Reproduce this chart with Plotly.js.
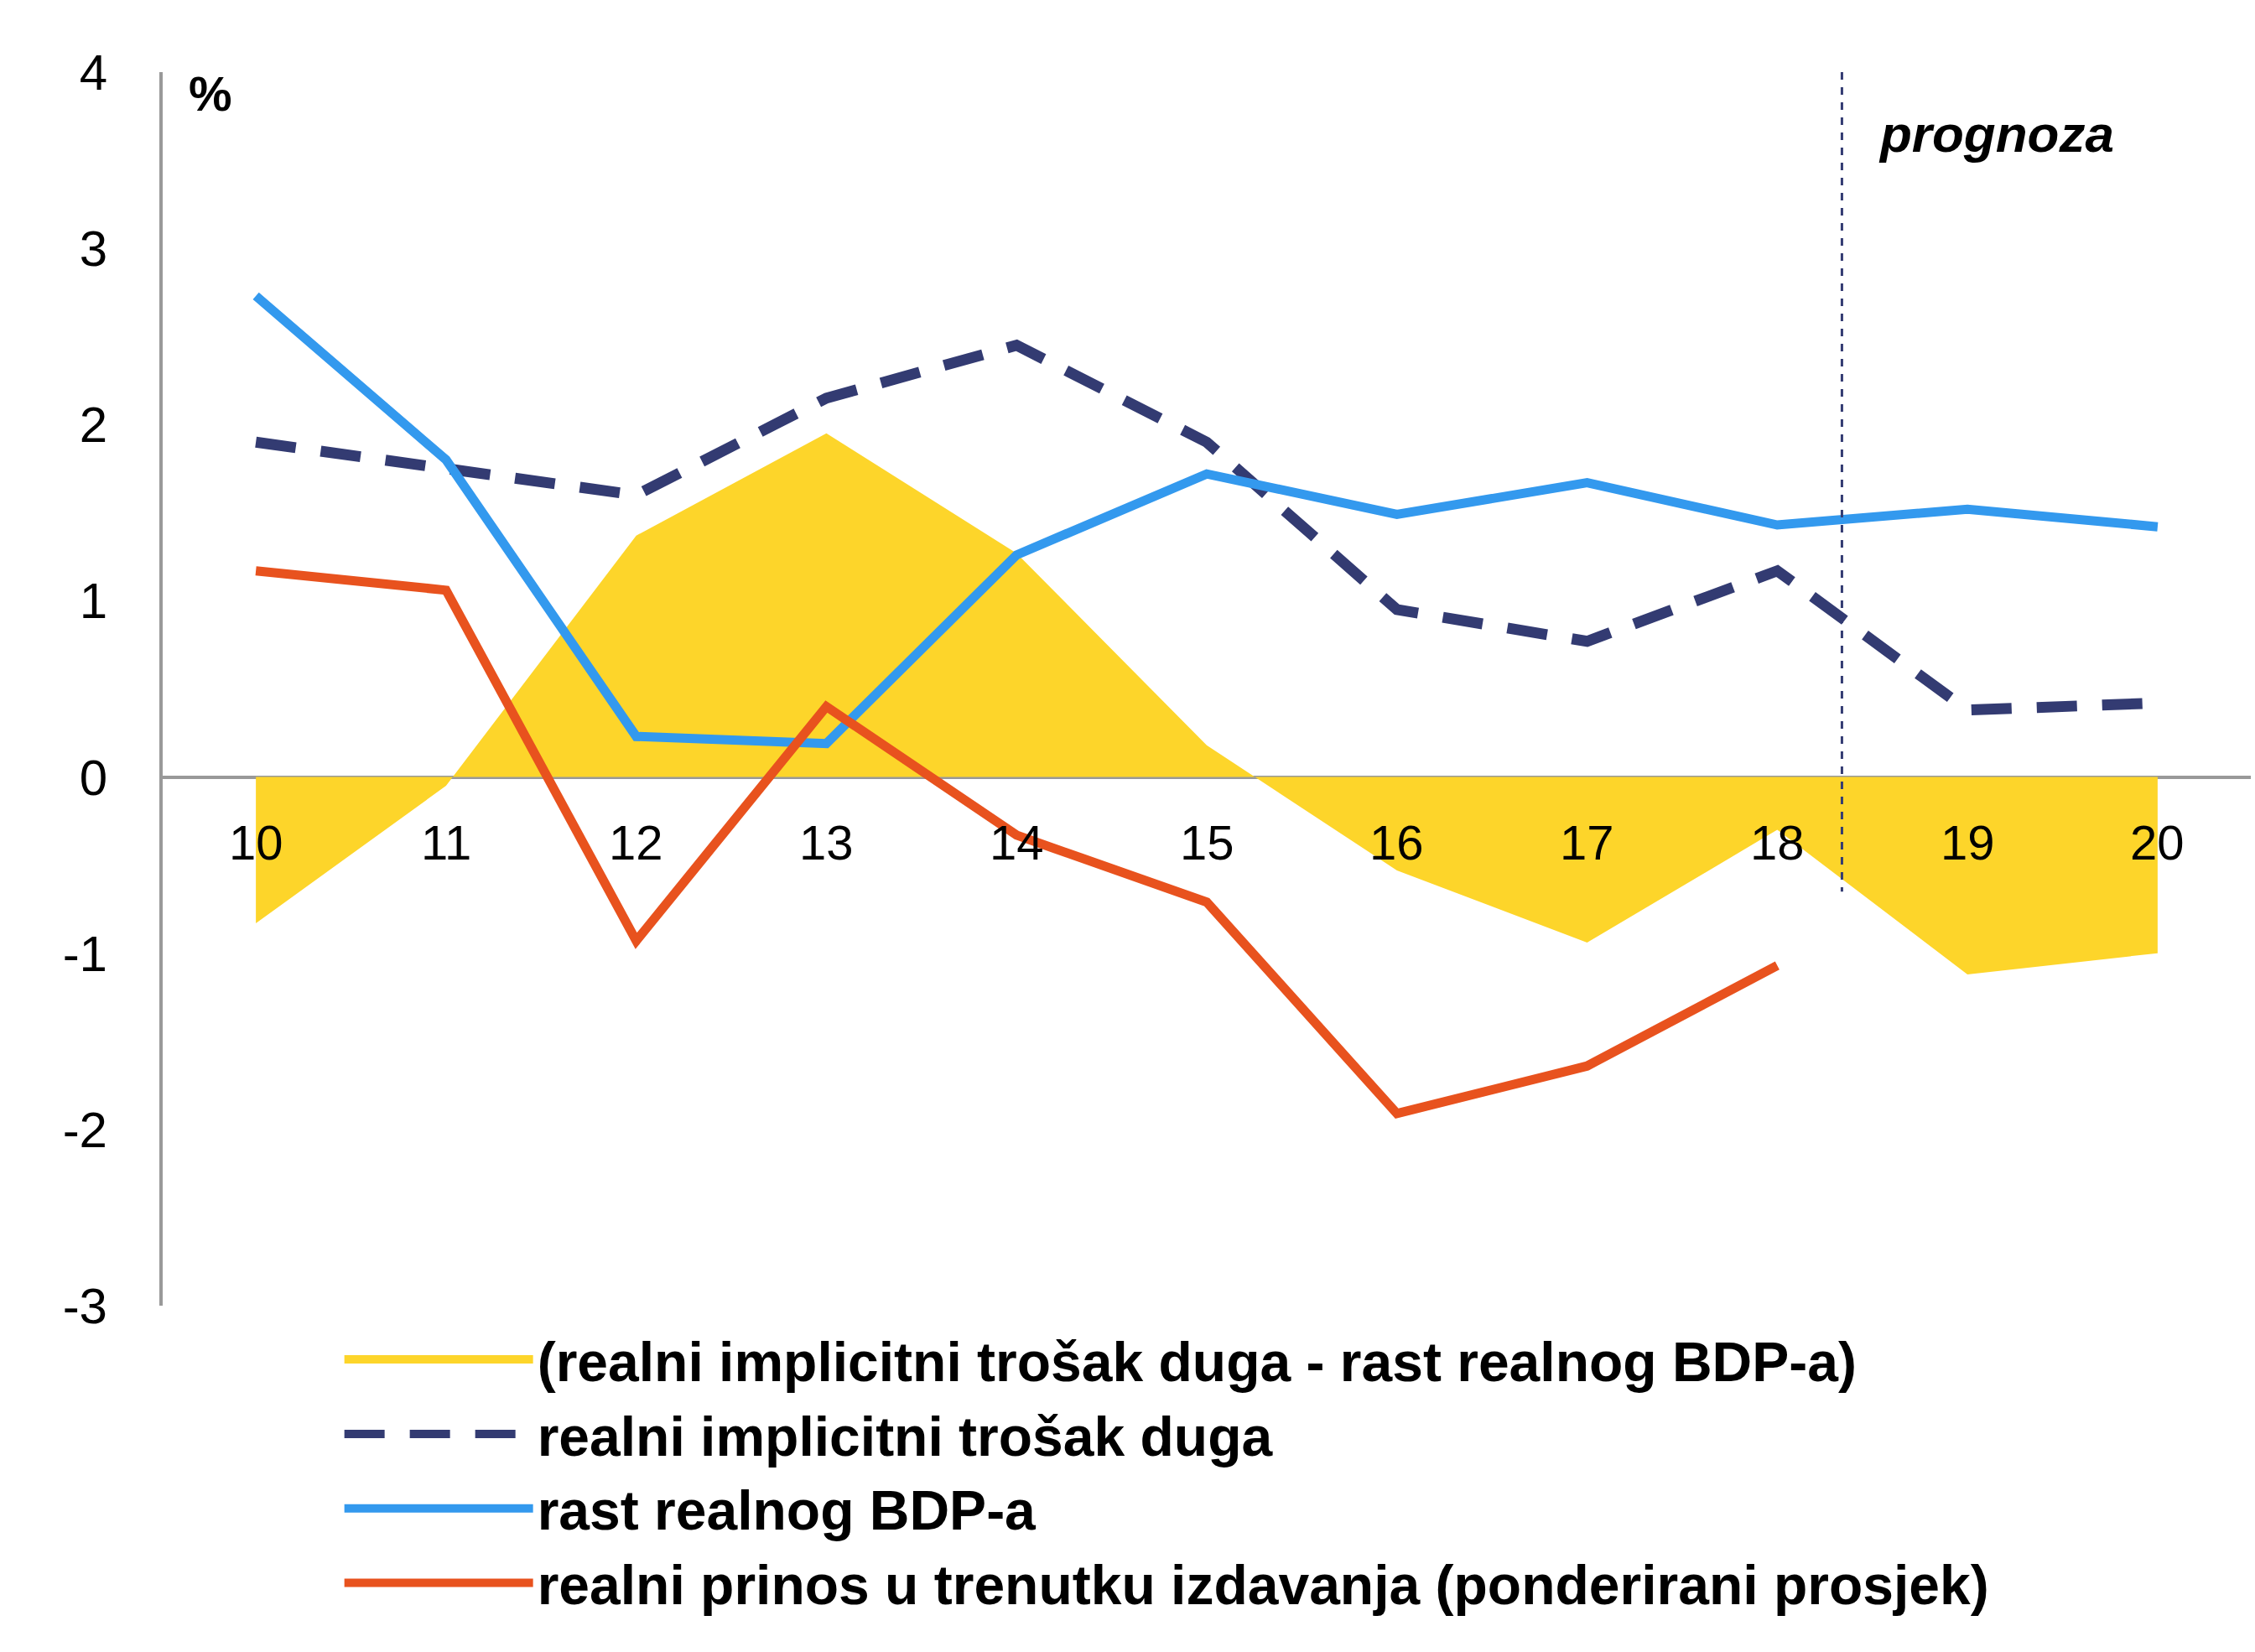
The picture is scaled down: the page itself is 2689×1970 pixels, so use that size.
<!DOCTYPE html>
<html><head><meta charset="utf-8">
<script src="https://cdn.plot.ly/plotly-3.0.1.min.js"></script>
<style>body{margin:0;background:#fff}</style></head>
<body><div id="c" style="width:2689px;height:1970px"></div>
<script>
const years = [10,11,12,13,14,15,16,17,18,19,20];
const yearLabels = ["10","11","12","13","14","15","16","17","18","19","20"];
const diffArea = [-0.83,-0.05,1.37,1.95,1.27,0.18,-0.53,-0.94,-0.30,-1.12,-1.00];
const implicitCost = [1.90,1.75,1.60,2.15,2.45,1.90,0.95,0.77,1.17,0.38,0.42];
const gdpGrowth = [2.73,1.80,0.23,0.19,1.26,1.72,1.49,1.67,1.43,1.52,1.42];
const yieldYears = [10,11,12,13,14,15,16,17,18];
const issueYield = [1.17,1.06,-0.93,0.40,-0.33,-0.71,-1.91,-1.64,-1.07];
const yTickVals = [-3,-2,-1,0,1,2,3,4];
const yTickText = ["-3","-2","-1","0","1","2","3","4"];
const forecastX = 18.34;

const traces = [
 {x:years,y:diffArea,type:'scatter',mode:'none',fill:'tozeroy',fillcolor:'#FDD52A',showlegend:false,hoverinfo:'skip'},
 {x:[null],y:[null],type:'scatter',mode:'lines',line:{color:'#FDD52A',width:34},
  name:'(realni implicitni trošak duga - rast realnog BDP-a)'},
 {x:years,y:implicitCost,type:'scatter',mode:'lines',line:{color:'#333B72',width:13,dash:'48px,30px'},
  name:'realni implicitni trošak duga'},
 {x:years,y:gdpGrowth,type:'scatter',mode:'lines',line:{color:'#3399EE',width:11},
  name:'rast realnog BDP-a'},
 {x:yieldYears,y:issueYield,type:'scatter',mode:'lines',line:{color:'#E8521E',width:11},
  name:'realni prinos u trenutku izdavanja (ponderirani prosjek)'}
];
const ann = years.map((v,i)=>({x:v,y:-0.37,xref:'x',yref:'y',text:yearLabels[i],showarrow:false,
  font:{size:58,color:'#000',family:'Liberation Sans, Arial'}}));
ann.push({x:9.76,y:3.88,xref:'x',yref:'y',text:'<b>%</b>',showarrow:false,font:{size:58,color:'#000',family:'Liberation Sans, Arial'}});
ann.push({x:19.15,y:3.65,xref:'x',yref:'y',text:'<b><i>prognoza</i></b>',showarrow:false,font:{size:62,color:'#000',family:'Liberation Sans, Arial'}});
const layout = {
 width:2689,height:1970,margin:{l:194,r:5,t:86,b:413},
 paper_bgcolor:'#fff',plot_bgcolor:'#fff',
 font:{family:'Liberation Sans, Arial',color:'#000',size:56},
 xaxis:{range:[9.51,20.49],showticklabels:false,showgrid:false,zeroline:false,showline:false,ticks:''},
 yaxis:{range:[-3,4],tickvals:yTickVals,ticktext:yTickText,showgrid:false,zeroline:true,zerolinecolor:'#999',zerolinewidth:4,
  showline:true,linecolor:'#999',linewidth:4,ticks:'',ticklabelstandoff:50,tickfont:{size:60}},
 showlegend:true,
 legend:{x:0.085,y:-0.01,xanchor:'left',yanchor:'top',font:{size:66,weight:'bold'},itemwidth:225,tracegroupgap:0,bgcolor:'rgba(0,0,0,0)'},
 shapes:[{type:'line',xref:'x',yref:'y',x0:forecastX,x1:forecastX,y0:4,y1:-0.65,line:{color:'#333B72',width:3,dash:'dash'}}],
 annotations:ann
};
Plotly.newPlot('c',traces,layout,{displayModeBar:false});
</script></body></html>
